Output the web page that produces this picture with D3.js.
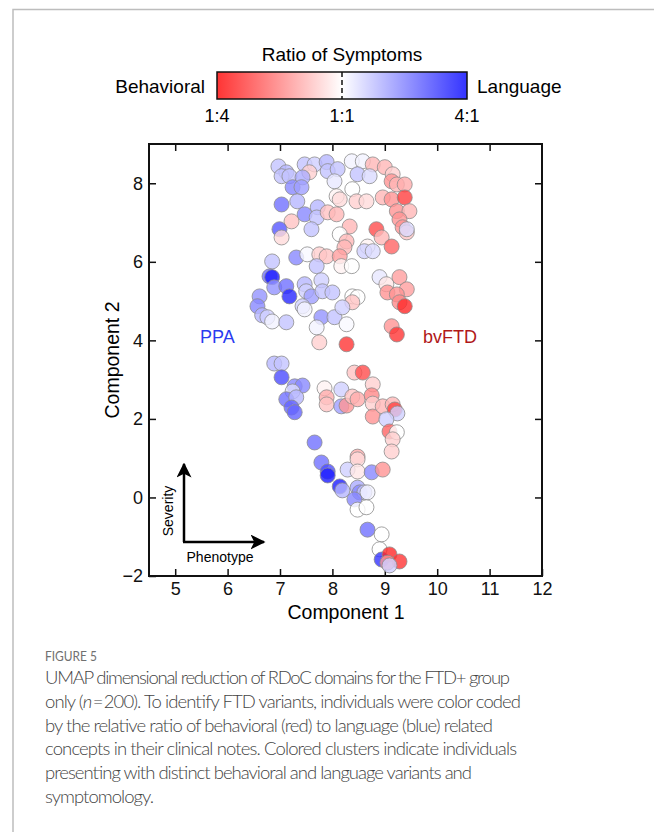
<!DOCTYPE html>
<html>
<head>
<meta charset="utf-8">
<script src="https://cdn.jsdelivr.net/npm/d3@7"></script>
<style>
  body { margin: 0; background: #fff; }
  svg text { font-family: "Liberation Sans", Arial, sans-serif; }
</style>
</head>
<body>
<div id="fig"></div>
<script>
// UMAP coordinates
let comp1 = [6.97,7.12,7.03,7.18,7.47,7.66,7.89,7.91,8.10,7.56,7.43,8.37,8.58,8.77,9.00,9.15,8.48,8.71,8.04,9.13,
  9.23,9.38,7.24,7.41,8.38,8.08,8.14,8.46,8.65,8.96,9.13,9.38,7.03,7.33,7.72,7.47,7.70,7.91,8.08,9.23,
  9.47,9.28,9.34,9.42,9.42,7.22,7.60,6.99,7.03,8.33,8.84,8.94,9.13,8.14,8.27,8.23,8.67,8.61,8.77,
  6.85,7.31,7.52,7.75,7.89,8.14,7.70,8.17,8.37,6.80,6.85,6.89,7.12,7.18,7.47,7.50,7.60,7.79,7.81,8.00,
  8.38,8.48,8.38,8.90,9.03,9.28,9.42,9.05,9.23,9.28,9.38,6.61,6.57,6.66,6.76,6.85,7.12,7.43,7.47,7.79,
  8.04,8.19,8.27,7.70,7.75,8.27,9.13,9.23,
  6.89,7.03,7.03,7.28,7.43,7.24,7.12,7.31,7.22,7.28,7.85,7.89,7.89,8.17,8.17,8.27,8.38,8.48,8.42,8.58,
  8.77,8.75,8.77,8.77,8.96,9.15,9.19,9.24,9.03,9.09,9.23,9.15,9.13,7.66,8.48,
  7.79,7.91,7.91,8.14,8.19,8.29,8.48,8.48,8.75,8.96,8.48,8.52,8.61,8.67,8.42,8.48,8.65,8.67,8.94,8.90,
  8.94,9.09,9.28,9.05,9.09];
let comp2 = [8.43,8.28,8.18,8.18,8.48,8.48,8.54,8.31,8.36,8.28,8.15,8.56,8.56,8.48,8.41,8.23,8.23,8.18,8.05,8.05,
  7.97,7.97,7.90,7.90,7.85,7.67,7.59,7.54,7.54,7.64,7.59,7.64,7.46,7.54,7.39,7.21,7.13,7.26,7.21,7.29,
  7.29,7.08,6.88,6.75,6.83,7.03,6.83,6.83,6.62,6.90,6.83,6.62,6.39,6.70,6.52,6.37,6.39,6.27,6.27,
  6.01,6.11,6.19,6.19,6.14,6.14,5.89,5.89,5.89,5.63,5.61,5.35,5.38,5.12,5.43,5.25,5.12,5.53,5.25,5.22,
  5.12,5.10,4.97,5.61,5.43,5.61,5.30,5.22,5.17,4.97,4.87,5.12,4.87,4.64,4.59,4.48,4.46,4.87,4.79,4.59,
  4.59,4.84,4.41,4.33,3.95,3.90,4.36,4.15,
  3.41,3.41,3.06,2.83,2.85,2.70,2.50,2.55,2.29,2.17,2.78,2.55,2.37,2.75,2.32,2.34,2.57,2.50,3.18,3.18,
  2.88,2.60,2.39,2.06,2.32,2.37,2.24,2.14,1.99,1.68,1.66,1.48,1.17,1.40,1.04,
  0.89,0.66,0.56,0.28,0.18,0.71,0.97,0.66,0.64,0.71,0.25,0.13,0.13,0.13,-0.05,-0.31,-0.25,-0.82,-0.94,-1.32,
  -1.58,-1.45,-1.63,-1.66,-1.73];
// log2 of language:behavioral ratio (-2 = 1:4, 0 = 1:1, 2 = 4:1)
let ratio = [0.5,0.6,0.5,0.5,0.5,0.4,0.6,0.5,0.5,-0.4,0.7,0.1,0.1,-0.6,-0.6,-0.4,0.5,0.3,0.2,-0.9,
  -0.6,-0.7,1.0,0.8,0.0,-0.1,-0.3,-0.4,-0.3,-0.6,-0.9,-1.6,1.2,0.6,0.6,1.0,0.5,-0.5,-0.6,-0.9,
  -0.6,-0.9,-0.9,-0.5,0.3,-0.5,0.5,1.4,-0.3,-0.6,-1.5,-0.6,-1.3,0.0,-0.6,-0.6,-0.1,0.4,0.3,
  0.5,1.0,0.05,-0.4,-0.5,-0.8,0.5,-0.1,0.0,1.2,1.9,0.9,1.2,1.8,0.6,0.4,0.8,0.4,0.5,0.5,
  0.0,0.0,-0.5,0.2,-0.2,-0.8,-0.8,-0.9,-0.9,-1.0,-1.8,0.9,1.0,0.6,0.4,0.1,0.5,0.4,0.1,0.9,
  0.5,0.4,0.05,0.1,-0.4,-1.7,-0.9,-1.7,
  0.6,0.5,1.5,1.0,1.0,0.3,1.2,0.6,1.3,1.3,-0.1,-0.7,-0.5,0.4,0.8,-0.9,-0.5,-0.7,-0.5,-1.5,
  -0.4,-1.0,-0.4,-0.9,-0.6,-0.6,-1.6,0.4,0.4,-1.3,0.0,-0.4,-0.4,1.2,-0.7,
  1.2,1.5,1.9,1.9,0.6,0.4,-0.3,-0.2,1.0,-0.9,0.7,1.0,0.5,0.1,1.0,0.0,0.0,1.2,0.0,0.0,
  1.7,-1.8,-1.7,-0.9,0.4];

let xTicks = [5, 6, 7, 8, 9, 10, 11, 12];
let yTicks = [-2, 0, 2, 4, 6, 8];
let barTicks = [-2, 0, 2];
let barTickLabels = ["1:4", "1:1", "4:1"];

let captionHead = "FIGURE 5";
let captionLines = [
  "UMAP dimensional reduction of RDoC domains for the FTD+ group",
  "only (n\u2009=\u2009200). To identify FTD variants, individuals were color coded",
  "by the relative ratio of behavioral (red) to language (blue) related",
  "concepts in their clinical notes. Colored clusters indicate individuals",
  "presenting with distinct behavioral and language variants and",
  "symptomology."
];
let captionEnds = [510, 521, 493, 517, 472, 154];

let data = comp1.map((d, i) => ({x: d, y: comp2[i], r: ratio[i]}));

let svg = d3.select("#fig").append("svg")
    .attr("width", 654)
    .attr("height", 832);

// thin page frame
svg.append("path")
    .attr("d", "M13,840 L13,9.5 L660,9.5")
    .attr("fill", "none")
    .attr("stroke", "#bdbdbd")
    .attr("stroke-width", 1.5);

let color = d3.scaleLinear()
    .domain([-2, 0, 2])
    .range(["#ff1010", "#ffffff", "#1010ff"])
    .clamp(true);

// ---- colour bar ----
let bar = {x0: 217, x1: 467, y: 72, h: 27};
let barX = d3.scaleLinear().domain([-2, 2]).range([bar.x0, bar.x1]);

let defs = svg.append("defs");
let grad = defs.append("linearGradient").attr("id", "cbar");
grad.append("stop").attr("offset", "0%").attr("stop-color", "#ff3434");
grad.append("stop").attr("offset", "50%").attr("stop-color", "#ffffff");
grad.append("stop").attr("offset", "100%").attr("stop-color", "#3434ff");

svg.append("rect")
    .attr("x", bar.x0).attr("y", bar.y)
    .attr("width", bar.x1 - bar.x0).attr("height", bar.h)
    .attr("fill", "url(#cbar)")
    .attr("stroke", "#111")
    .attr("stroke-width", 1.5);

svg.append("line")
    .attr("x1", barX(0)).attr("x2", barX(0))
    .attr("y1", bar.y).attr("y2", bar.y + bar.h)
    .attr("stroke", "#111")
    .attr("stroke-width", 1.5)
    .attr("stroke-dasharray", "5,3");

svg.append("text")
    .attr("x", barX(0)).attr("y", 61)
    .style("text-anchor", "middle")
    .style("font-size", "19px")
    .text("Ratio of Symptoms");

svg.append("text")
    .attr("x", 205).attr("y", 93)
    .style("text-anchor", "end")
    .style("font-size", "19px")
    .text("Behavioral");

svg.append("text")
    .attr("x", 477).attr("y", 93)
    .style("text-anchor", "start")
    .style("font-size", "19px")
    .text("Language");

svg.selectAll(".btick").data(barTicks).enter()
    .append("text")
    .attr("x", d => barX(d)).attr("y", 122)
    .style("text-anchor", "middle")
    .style("font-size", "18px")
    .text((d, i) => barTickLabels[i]);

// ---- scatter ----
let plot = {left: 149, right: 542, top: 144, bottom: 576};

let x = d3.scaleLinear().domain([4.5, 12]).range([plot.left, plot.right]);
let y = d3.scaleLinear().domain([-2, 9]).range([plot.bottom, plot.top]);

let g = svg.append("g");

g.append("g")
    .attr("transform", `translate(0,${plot.bottom})`)
    .call(d3.axisBottom(x).tickValues(xTicks).tickSize(-7).tickPadding(6))
    .call(a => a.select(".domain").remove())
    .call(a => a.selectAll("text").style("font-size", "18px").attr("fill", "#111"));

g.append("g")
    .attr("transform", `translate(${plot.left},0)`)
    .call(d3.axisLeft(y).tickValues(yTicks).tickSize(-7).tickPadding(6))
    .call(a => a.select(".domain").remove())
    .call(a => a.selectAll("text").style("font-size", "18px").attr("fill", "#111"));

g.append("g")
    .attr("transform", `translate(0,${plot.top})`)
    .call(d3.axisTop(x).tickValues(xTicks.slice(0, -1)).tickSize(-7).tickFormat(""))
    .call(a => a.select(".domain").remove());

g.append("g")
    .attr("transform", `translate(${plot.right},0)`)
    .call(d3.axisRight(y).tickValues(yTicks.slice(1)).tickSize(-7).tickFormat(""))
    .call(a => a.select(".domain").remove());

g.selectAll(".tick line").attr("stroke", "#111").attr("stroke-width", 1.5);

g.append("rect")
    .attr("x", plot.left).attr("y", plot.top)
    .attr("width", plot.right - plot.left)
    .attr("height", plot.bottom - plot.top)
    .attr("fill", "none")
    .attr("stroke", "#111")
    .attr("stroke-width", 2);

g.selectAll("circle").data(data).enter()
    .append("circle")
    .attr("cx", d => x(d.x))
    .attr("cy", d => y(d.y))
    .attr("r", 7.5)
    .attr("fill", d => color(d.r))
    .attr("fill-opacity", 0.8)
    .attr("stroke", "#8c8c8c")
    .attr("stroke-opacity", 0.8)
    .attr("stroke-width", 1);

// axis titles
svg.append("text")
    .attr("x", 346).attr("y", 619)
    .style("text-anchor", "middle")
    .style("font-size", "19.5px")
    .text("Component 1");

svg.append("text")
    .attr("transform", `translate(${119},${360}) rotate(-90)`)
    .style("text-anchor", "middle")
    .style("font-size", "19.5px")
    .text("Component 2");

// cluster labels
svg.append("text")
    .attr("x", 200).attr("y", 343)
    .style("font-size", "18px")
    .attr("fill", "#2b3cf0")
    .text("PPA");

svg.append("text")
    .attr("x", 423).attr("y", 343)
    .style("font-size", "18px")
    .attr("fill", "#b01818")
    .text("bvFTD");

// orientation arrows
svg.append("defs").append("marker")
    .attr("id", "head")
    .attr("viewBox", "0 0 10 10")
    .attr("refX", 9).attr("refY", 5)
    .attr("markerWidth", 6).attr("markerHeight", 6)
    .attr("markerUnits", "strokeWidth")
    .attr("orient", "auto")
    .append("path")
    .attr("d", "M0,0 L10,5 L0,10 L2.5,5 Z")
    .attr("fill", "#000");

svg.append("path")
    .attr("d", "M184,542 L184,464")
    .attr("stroke", "#000").attr("stroke-width", 2.5)
    .attr("marker-end", "url(#head)");
svg.append("path")
    .attr("d", "M183,542 L264,542")
    .attr("stroke", "#000").attr("stroke-width", 2.5)
    .attr("marker-end", "url(#head)");

svg.append("text")
    .attr("transform", `translate(${173},${511}) rotate(-90)`)
    .style("text-anchor", "middle")
    .style("font-size", "14px")
    .text("Severity");

svg.append("text")
    .attr("x", 220).attr("y", 562)
    .style("text-anchor", "middle")
    .style("font-size", "14px")
    .text("Phenotype");

// caption
svg.append("text")
    .attr("x", 45).attr("y", 661)
    .style("font-family", "Lato, 'Open Sans', sans-serif")
    .style("font-size", "14px")
    .attr("fill", "#707070")
    .attr("textLength", 52)
    .attr("lengthAdjust", "spacingAndGlyphs")
    .text(captionHead);

svg.selectAll(".cap").data(captionLines).enter()
    .append("text")
    .attr("x", 45)
    .attr("y", (d, i) => 684 + i * 23.8)
    .style("font-family", "Lato, 'Open Sans', sans-serif")
    .style("font-weight", 300)
    .style("font-size", "18.5px")
    .attr("fill", "#444")
    .attr("textLength", (d, i) => captionEnds[i] - 45)
    .attr("lengthAdjust", "spacing")
    .text(d => d)
    .filter((d, i) => i === 1)
    .each(function() {
      // italic n
      let t = d3.select(this);
      t.text(null);
      t.append("tspan").text("only (");
      t.append("tspan").style("font-style", "italic").text("n");
      t.append("tspan").text("\u2009=\u2009200). To identify FTD variants, individuals were color coded");
    });
</script>
</body>
</html>
